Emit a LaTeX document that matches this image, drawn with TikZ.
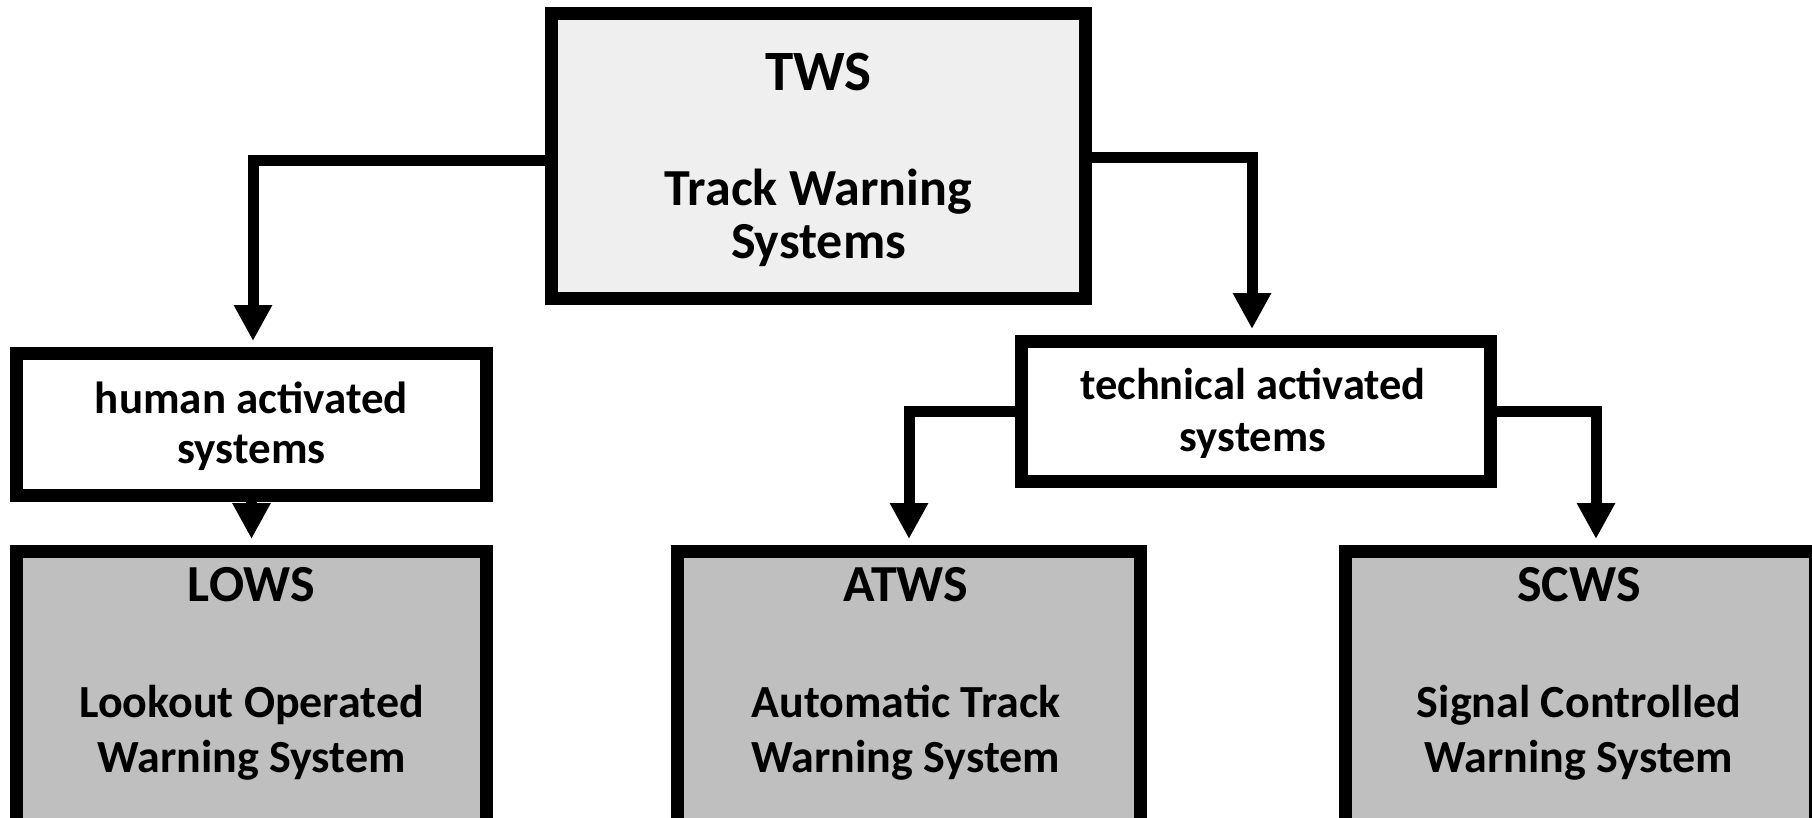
\documentclass[tikz,border=0pt]{standalone}
\usepackage{fontspec}
\setmainfont{Carlito}
\usetikzlibrary{arrows.meta}
\definecolor{topfill}{RGB}{239,239,239}
\definecolor{leaffill}{RGB}{191,191,191}
\tikzset{
  boxbase/.style={draw=black, line width=13pt, inner sep=0pt, rectangle},
  topbox/.style={boxbase, fill=topfill},
  midbox/.style={boxbase, fill=white},
  leafbox/.style={boxbase, fill=leaffill},
  conn/.style={line width=11pt, -{Triangle[length=36pt,width=36pt]}, shorten >=6pt},
  headtxt/.style={font=\fontsize{56}{56}\selectfont\bfseries, anchor=base, inner sep=0pt},
  bodytxt/.style={anchor=base, inner sep=0pt, align=center}
}
\begin{document}
\begin{tikzpicture}[x=1pt,y=-1pt]
\useasboundingbox (0,0) rectangle (1812,817);
\clip (0,0) rectangle (1812,817);
% boxes
\node[topbox, minimum width=534pt, minimum height=285pt] (tws) at (818.5,156) {};
\node[midbox, minimum width=470pt, minimum height=142pt] (human) at (251.5,424.5) {};
\node[midbox, minimum width=469pt, minimum height=140pt] (tech) at (1256,411.5) {};
\node[leafbox, minimum width=470pt, minimum height=279pt] (lows) at (251.5,691) {};
\node[leafbox, minimum width=463pt, minimum height=279pt] (atws) at (909,691) {};
\node[leafbox, minimum width=470pt, minimum height=279pt] (scws) at (1580,691) {};
% texts (anchor base = baseline of last line)
\node[headtxt, font=\fontsize{57}{57}\selectfont\bfseries] (twsh) at (818.5,90) {TWS};
\node[bodytxt, font=\fontsize{52}{53}\selectfont\bfseries] (twsb) at (818.5,258) {Track Warning\\Systems};
\node[bodytxt, font=\fontsize{45}{50}\selectfont\bfseries] (humant) at (251.5,463) {human activated\\systems};
\node[bodytxt, font=\fontsize{44.5}{52}\selectfont\bfseries] (techt) at (1253,451) {technical activated\\systems};
\node[headtxt, font=\fontsize{52}{52}\selectfont\bfseries] (lowsh) at (251.5,601) {LOWS};
\node[headtxt, font=\fontsize{52}{52}\selectfont\bfseries] (atwsh) at (906,601) {ATWS};
\node[headtxt, font=\fontsize{52}{52}\selectfont\bfseries] (scwsh) at (1579,601) {SCWS};
\node[bodytxt, font=\fontsize{46}{55}\selectfont\bfseries] (lowsb) at (251.5,772) {Lookout Operated\\Warning System};
\node[bodytxt, font=\fontsize{46}{55}\selectfont\bfseries] (atwsb) at (906,772) {Automatic Track\\Warning System};
\node[bodytxt, font=\fontsize{46}{55}\selectfont\bfseries] (scwsb) at (1579,772) {Signal Controlled\\Warning System};
% connectors
\coordinate (twsL) at ([yshift=-4pt]tws.west);
\coordinate (twsR) at ([yshift=-1pt]tws.east);
\coordinate (humanIn) at ([xshift=1.5pt]human.north);
\coordinate (techIn) at ([xshift=-4pt]tech.north);
\coordinate (scwsIn) at ([xshift=16pt]scws.north);
\draw[conn] (twsL) -| (humanIn);
\draw[conn] (twsR) -| (techIn);
\draw[conn] (human.south) -- (lows.north);
\draw[conn] (tech.west) -| (atws.north);
\draw[conn] (tech.east) -| (scwsIn);
\end{tikzpicture}
\end{document}
